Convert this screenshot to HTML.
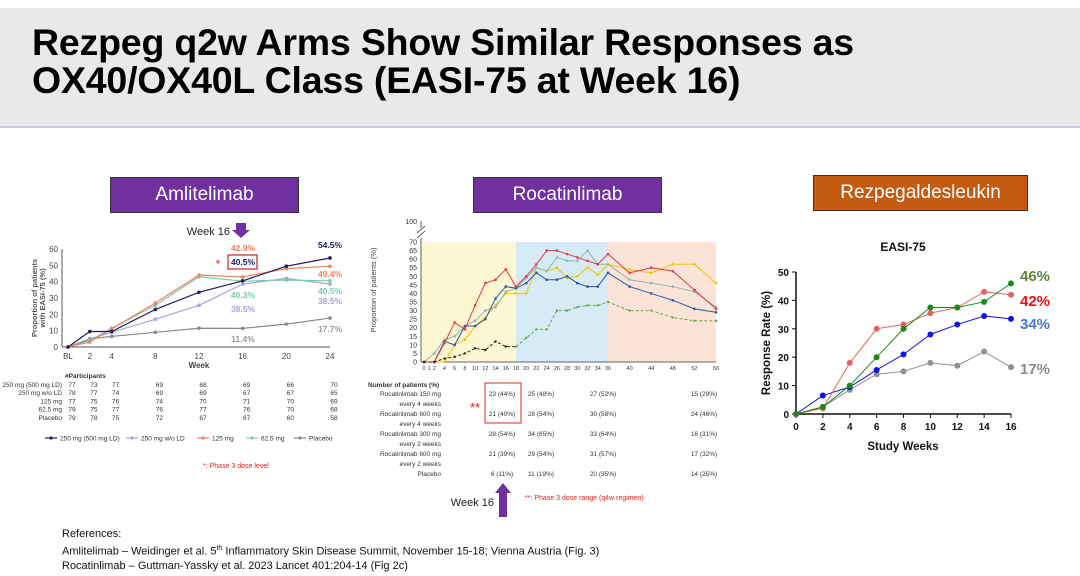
<!DOCTYPE html>
<html><head><meta charset="utf-8">
<style>
body{margin:0;width:1080px;height:576px;background:#fff;font-family:"Liberation Sans",Arial,sans-serif;position:relative;overflow:hidden}
.abs{position:absolute}
#titlebar{left:0;top:8px;width:1080px;height:118px;background:#e9e9e9;border-bottom:2px solid #c5ccd8}
#title{left:32px;top:23px;font-size:37.5px;font-weight:bold;line-height:38px;color:#000;white-space:nowrap;letter-spacing:-0.2px}
.hdr{color:#fff;font-size:19px;text-align:center;line-height:34px;border:1px solid #333}
svg text{font-family:"Liberation Sans",Arial,sans-serif}
#refs{left:62px;top:527px;font-size:11px;line-height:14.5px;color:#111}
</style></head><body>
<div id="titlebar" class="abs"></div>
<div id="title" class="abs">Rezpeg q2w Arms Show Similar Responses as<br>OX40/OX40L Class (EASI-75 at Week 16)</div>
<div class="abs hdr" style="left:110px;top:177px;width:187px;height:34px;background:#7030a0">Amlitelimab</div>
<div class="abs hdr" style="left:473px;top:177px;width:187px;height:34px;background:#7030a0">Rocatinlimab</div>
<div class="abs hdr" style="left:813px;top:175px;width:213px;height:34px;background:#c55a11">Rezpegaldesleukin</div>

<svg class="abs" style="left:0;top:0" width="1080" height="576" id="svg"></svg>

<div id="refs" class="abs">References:<br>Amlitelimab – Weidinger et al. 5<sup style="font-size:7px">th</sup> Inflammatory Skin Disease Summit, November 15-18; Vienna Austria (Fig. 3)<br>Rocatinlimab – Guttman-Yassky et al. 2023 Lancet 401:204-14 (Fig 2c)</div>

<script>
// ---- Amlitelimab data ----
const amWeeks=[0,2,4,8,12,16,20,24];
const amTickLabels=["BL","2","4","8","12","16","20","24"];
const amYTicks=[0,10,20,30,40,50,60];
const am250LD=[0,9.5,9.5,23,33.5,40.5,49.5,54.5];
const am250=[0,5,9,17,25.5,38.5,42,38.5];
const am125=[0,3,11,27,44,42.9,48,49.4];
const am625=[0,4,11.5,25.5,43,40.3,41,40.5];
const amPbo=[0,5,6.5,9,11.5,11.4,14,17.7];
// ---- Rocatinlimab data ----
const roWeeks=[0,2,4,6,8,10,12,14,16,18,20,22,24,26,28,30,32,34,36,40,44,48,52,56];
const roXTicks=[0,1,2,4,6,8,10,12,14,16,18,20,22,24,26,28,30,32,34,36,40,44,48,52,56];
const roYTicks=[0,5,10,15,20,25,30,35,40,45,50,55,60,65,70];
const ro150q4=[0,0,11,23,19,33,46,48,54,44,50,57,65,65,63,61,59,57,63,52,55,53,42,31];
const ro600q4=[0,0,12,10,21,21,25,37,44,43,46,52,48,48,50,46,44,44,52,44,40,36,31,29];
const ro300q2=[0,5,13,15,21,24,30,32,41,43,49,55,53,61,59,59,65,57,57,48,46,44,41,32];
const ro600q2=[0,0,0,10,13,21,26,33,40,40,40,55,53,55,49,50,55,51,57,54,52,57,57,46];
const roPbo=[0,0,2,3,5,8,7,12,9,9,14,19,19,30,30,32,33,33,35,30,30,26,24,24];
// ---- Rezpeg data ----
const rzWeeks=[0,2,4,6,8,10,12,14,16];
const rzYTicks=[0,10,20,30,40,50];
const rzGreen=[0,2.5,10,20,30,37.5,37.5,39.5,46];
const rzRed=[0,2,18,30,31.5,35.5,37.5,43,42];
const rzBlue=[0,6.5,9.5,15.5,21,28,31.5,34.5,33.5];
const rzGray=[0,2.5,8.5,14,15,18,17,22,16.5];

const svg=document.getElementById('svg');
const NS='http://www.w3.org/2000/svg';
function mk(tag,attrs,parent){const e=document.createElementNS(NS,tag);for(const k in attrs)e.setAttribute(k,attrs[k]);(parent||svg).appendChild(e);return e;}
function txt(x,y,s,attrs){const e=mk('text',Object.assign({x:x,y:y},attrs||{}));e.textContent=s;return e;}

// ===== Amlitelimab =====
const ax=w=>68+w*(262/24), ay=v=>347-v*(98/60);
mk('line',{x1:ax(0)-6,y1:ay(0),x2:ax(24),y2:ay(0),stroke:'#555','stroke-width':1});
mk('line',{x1:ax(0)-6,y1:ay(0),x2:ax(0)-6,y2:ay(60),stroke:'#555','stroke-width':1});
amYTicks.forEach(t=>{const e=txt(ax(0)-10,ay(t)+3,t,{'font-size':8,'text-anchor':'end',fill:'#444'});

});
amWeeks.forEach((w,i)=>{const e=txt(ax(w),ay(0)+12,amTickLabels[i],{'font-size':8,'text-anchor':'middle',fill:'#444'});

});
txt(ax(12),ay(0)+21,'Week',{'font-size':8,'font-weight':'bold','text-anchor':'middle',fill:'#444'});
txt(0,0,'Proportion of patients',{'font-size':7.5,'font-weight':'bold',fill:'#555','text-anchor':'middle',transform:'translate(37,298) rotate(-90)'});
txt(0,0,'with EASI-75 (%)',{'font-size':7.5,'font-weight':'bold',fill:'#555','text-anchor':'middle',transform:'translate(45,298) rotate(-90)'});
[[am250,'#a8a4dc'],[amPbo,'#8a8a8a'],[am625,'#78cca8'],[am125,'#f08060'],[am250LD,'#1c1c60']].forEach(([d,c])=>{
 const p=mk('polyline',{points:d.map((v,i)=>ax(amWeeks[i])+','+ay(v)).join(' '),fill:'none',stroke:c,'stroke-width':1.2});
 
 
 d.forEach((v,i)=>{const m=mk('circle',{cx:ax(amWeeks[i]),cy:ay(v),r:1.8,fill:c});
 
 });
});
txt(230,235,'Week 16',{'font-size':11,'text-anchor':'end',fill:'#222'});
mk('polygon',{points:'236,223 246,223 246,230 250,230 241,238 232,230 236,230',fill:'#7030a0'});
txt(243,251,'42.9%',{'font-size':8.5,'font-weight':'bold','text-anchor':'middle',fill:'#f08060'});
mk('rect',{x:228,y:255,width:29,height:14,fill:'none',stroke:'#d02020','stroke-width':1.2});
txt(243,265,'40.5%',{'font-size':8.5,'font-weight':'bold','text-anchor':'middle',fill:'#1c1c60'});
txt(218,268,'*',{'font-size':12,'text-anchor':'middle',fill:'#e02020'});
txt(243,298,'40.3%',{'font-size':8.5,'font-weight':'bold','text-anchor':'middle',fill:'#78cca8'});
txt(243,312,'38.5%',{'font-size':8.5,'font-weight':'bold','text-anchor':'middle',fill:'#a8a4dc'});
txt(243,342,'11.4%',{'font-size':8.5,'font-weight':'bold','text-anchor':'middle',fill:'#999'});
txt(330,248,'54.5%',{'font-size':8.5,'font-weight':'bold','text-anchor':'middle',fill:'#1c1c60'});
txt(330,277,'49.4%',{'font-size':8.5,'font-weight':'bold','text-anchor':'middle',fill:'#f08060'});
txt(330,294,'40.5%',{'font-size':8.5,'font-weight':'bold','text-anchor':'middle',fill:'#78cca8'});
txt(330,304,'38.5%',{'font-size':8.5,'font-weight':'bold','text-anchor':'middle',fill:'#a8a4dc'});
txt(330,332,'17.7%',{'font-size':8.5,'font-weight':'bold','text-anchor':'middle',fill:'#999'});
txt(65,378,'#Participants',{'font-size':6.5,'font-weight':'bold',fill:'#333'});
const amRowNames=['250 mg (500 mg LD)','250 mg w/o LD','125 mg','62.5 mg','Placebo'];
const amCounts=[[77,73,77,69,68,69,66,70],[78,77,74,69,69,67,67,65],[77,75,76,74,70,71,70,69],[79,75,77,76,77,76,70,68],[79,78,75,72,67,67,60,58]];
amRowNames.forEach((n,r)=>{const y=387+r*8.2;txt(62,y,n,{'font-size':6.5,'text-anchor':'end',fill:'#333'});
 amCounts[r].forEach((c,i)=>txt(ax(amWeeks[i])+4,y,c,{'font-size':6.5,'text-anchor':'middle',fill:'#333'}));});
const amLeg=[['250 mg (500 mg LD)','#1c1c60',45],['250 mg w/o LD','#a8a4dc',126],['125 mg','#f08060',197],['62.5 mg','#78cca8',246],['Placebo','#8a8a8a',294]];
amLeg.forEach(([n,c,x])=>{mk('line',{x1:x,y1:438,x2:x+12,y2:438,stroke:c,'stroke-width':1.2});mk('circle',{cx:x+6,cy:438,r:1.6,fill:c});
 txt(x+15,440.5,n,{'font-size':6.5,fill:'#333'});});
txt(203,468,'*: Phase 3 dose level',{'font-size':7,fill:'#e02020'});

// ===== Rocatinlimab =====
const rx=w=>w<=36?424+w*(184/36):608+(w-36)*(108/20);
const ry=v=>362-v*(120/70);
mk('rect',{x:422,y:ry(70),width:rx(18)-422,height:ry(0)-ry(70),fill:'#fdf6d2'});
mk('rect',{x:rx(18),y:ry(70),width:rx(36)-rx(18),height:ry(0)-ry(70),fill:'#d6ebf5'});
mk('rect',{x:rx(36),y:ry(70),width:rx(56)-rx(36),height:ry(0)-ry(70),fill:'#fbe3d8'});
mk('line',{x1:421,y1:ry(0),x2:rx(56),y2:ry(0),stroke:'#333','stroke-width':0.8});
mk('line',{x1:421,y1:ry(0),x2:421,y2:ry(70)-4,stroke:'#333','stroke-width':0.8});
mk('line',{x1:421,y1:228,x2:421,y2:221,stroke:'#333','stroke-width':0.8});
mk('path',{d:'M417,233 L425,226 M417,238 L425,231',stroke:'#333','stroke-width':0.8,fill:'none'});
txt(417,224,'100',{'font-size':7,'text-anchor':'end',fill:'#333'});
roYTicks.forEach(t=>{const e=txt(417,ry(t)+2.5,t,{'font-size':7,'text-anchor':'end',fill:'#333'});

});
roXTicks.forEach(t=>{const e=txt(rx(t),ry(0)+8,t,{'font-size':5.5,'text-anchor':'middle',fill:'#333'});

});
txt(0,0,'Proportion of patients (%)',{'font-size':7.5,fill:'#444','text-anchor':'middle',transform:'translate(376,290) rotate(-90)'});
[[ro600q2,'#f5c400'],[ro300q2,'#8fb8ae'],[ro600q4,'#2a58a8'],[ro150q4,'#e83a3a']].forEach(([d,c])=>{
 const p=mk('polyline',{points:d.map((v,i)=>rx(roWeeks[i])+','+ry(v)).join(' '),fill:'none',stroke:c,'stroke-width':1});
 
 
 d.forEach((v,i)=>{const m=mk('circle',{cx:rx(roWeeks[i]),cy:ry(v),r:1.3,fill:c});
 
 });
});
{const i18=roWeeks.indexOf(18);
 const a=roPbo.slice(0,i18+1).map((v,i)=>rx(roWeeks[i])+','+ry(v)).join(' ');
 const b=roPbo.slice(i18).map((v,i)=>rx(roWeeks[i+i18])+','+ry(v)).join(' ');
 mk('polyline',{points:a,fill:'none',stroke:'#222','stroke-width':1,'stroke-dasharray':'3,2'});
 mk('polyline',{points:b,fill:'none',stroke:'#62a844','stroke-width':1,'stroke-dasharray':'3,2'});
 roPbo.forEach((v,i)=>mk('circle',{cx:rx(roWeeks[i]),cy:ry(v),r:1.2,fill:roWeeks[i]<18?'#222':'#62a844'}));}
txt(368,387,'Number of patients (%)',{'font-size':6.5,'font-weight':'bold',fill:'#333'});
const roRows=[['Rocatinlimab 150 mg','every 4 weeks'],['Rocatinlimab 600 mg','every 4 weeks'],['Rocatinlimab 300 mg','every 2 weeks'],['Rocatinlimab 600 mg','every 2 weeks'],['Placebo','']];
const roVals=[['23 (44%)','25 (48%)','27 (52%)','15 (29%)'],['21 (40%)','28 (54%)','30 (58%)','24 (46%)'],['28 (54%)','34 (65%)','33 (64%)','16 (31%)'],['21 (39%)','29 (54%)','31 (57%)','17 (32%)'],['6 (11%)','11 (19%)','20 (35%)','14 (25%)']];
const roCols=[502,541,603,704];
roRows.forEach((r,i)=>{const y=396+i*20;txt(441,y,r[0],{'font-size':6.5,'text-anchor':'end',fill:'#333'});
 if(r[1])txt(441,y+10,r[1],{'font-size':6.5,'text-anchor':'end',fill:'#333'});
 roVals[i].forEach((v,j)=>txt(roCols[j],y,v,{'font-size':6.5,'text-anchor':'middle',fill:'#333'}));});
mk('rect',{x:485,y:383,width:36,height:40,fill:'none',stroke:'#e02020','stroke-width':1});
txt(475,412,'**',{'font-size':13,'text-anchor':'middle',fill:'#e02020'});
mk('polygon',{points:'503,483 511,493 507,493 507,517 499,517 499,493 495,493',fill:'#7030a0'});
txt(494,506,'Week 16',{'font-size':11,'text-anchor':'end',fill:'#222'});
txt(525,500,'**: Phase 3 dose range (q4w regimen)',{'font-size':7,fill:'#e02020'});

// ===== Rezpeg =====
const zx=w=>796+w*(215/16), zy=v=>414-v*(142/50);
txt(903,251,'EASI-75',{'font-size':12,'font-weight':'bold','text-anchor':'middle',fill:'#111'});
mk('line',{x1:zx(0),y1:zy(0),x2:zx(16),y2:zy(0),stroke:'#111','stroke-width':1.5});
mk('line',{x1:zx(0),y1:zy(0),x2:zx(0),y2:zy(50),stroke:'#111','stroke-width':1.5});
rzYTicks.forEach(t=>{mk('line',{x1:zx(0)-4,y1:zy(t),x2:zx(0),y2:zy(t),stroke:'#111'});
 const e=txt(zx(0)-7,zy(t)+4,t,{'font-size':10,'font-weight':'bold','text-anchor':'end',fill:'#111'});
 
 });
rzWeeks.forEach(w=>{mk('line',{x1:zx(w),y1:zy(0),x2:zx(w),y2:zy(0)+4,stroke:'#111'});
 const e=txt(zx(w),zy(0)+16,w,{'font-size':10,'font-weight':'bold','text-anchor':'middle',fill:'#111'});
 
 });
txt(903,450,'Study Weeks',{'font-size':11.5,'font-weight':'bold','text-anchor':'middle',fill:'#111'});
txt(0,0,'Response Rate (%)',{'font-size':11.5,'font-weight':'bold','text-anchor':'middle',fill:'#111',transform:'translate(770,343) rotate(-90)'});
[[rzGray,'#909090'],[rzBlue,'#1010e8'],[rzRed,'#e86060'],[rzGreen,'#1a8a1a']].forEach(([d,c])=>{
 const p=mk('polyline',{points:d.map((v,i)=>zx(rzWeeks[i])+','+zy(v)).join(' '),fill:'none',stroke:c,'stroke-width':1});
 
 
 d.forEach((v,i)=>{const m=mk('circle',{cx:zx(rzWeeks[i]),cy:zy(v),r:3,fill:c});
 
 });
});
txt(1020,281,'46%',{'font-size':15,'font-weight':'bold',fill:'#5a8a3a'});
txt(1020,306,'42%',{'font-size':15,'font-weight':'bold',fill:'#ee1111'});
txt(1020,329,'34%',{'font-size':15,'font-weight':'bold',fill:'#4a78c8'});
txt(1020,374,'17%',{'font-size':15,'font-weight':'bold',fill:'#8a8a8a'});
</script>
</body></html>
